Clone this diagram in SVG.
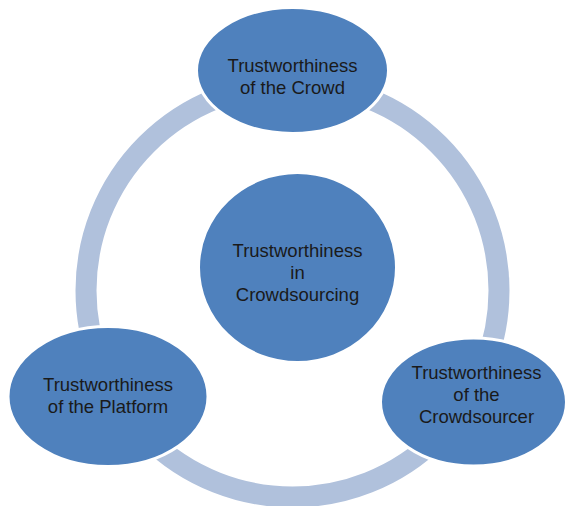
<svg xmlns="http://www.w3.org/2000/svg" width="567" height="506" viewBox="0 0 567 506">
  <style>
    .ring { fill: none; stroke: #B0C1DC; stroke-width: 21; }
    .node { fill: #4F81BD; stroke: #FFFFFF; stroke-width: 3; }
    .label { font-family: "Liberation Sans", Arial, sans-serif; font-size: 18.5px; fill: #1A1A1A; text-anchor: middle; }
  </style>
  <rect width="567" height="506" fill="#FFFFFF"/>

  <!-- cycle ring linking the three outer nodes -->
  <g id="connectors">
    <circle class="ring" cx="292.5" cy="290.5" r="206.5"/>
  </g>

  <g id="node-crowd">
    <ellipse class="node" cx="292.5" cy="70.5" rx="96" ry="63"/>
    <text class="label" x="292.5" y="72">Trustworthiness</text>
    <text class="label" x="292.5" y="94">of the Crowd</text>
  </g>

  <g id="node-center">
    <ellipse class="node" cx="297.5" cy="267.5" rx="99" ry="95"/>
    <text class="label" x="297.5" y="257">Trustworthiness</text>
    <text class="label" x="297.5" y="279">in</text>
    <text class="label" x="297.5" y="301">Crowdsourcing</text>
  </g>

  <g id="node-platform">
    <ellipse class="node" cx="108" cy="396.5" rx="100" ry="70"/>
    <text class="label" x="108" y="391">Trustworthiness</text>
    <text class="label" x="108" y="413">of the Platform</text>
  </g>

  <g id="node-crowdsourcer">
    <ellipse class="node" cx="473.5" cy="402" rx="93" ry="64"/>
    <text class="label" x="476.5" y="379">Trustworthiness</text>
    <text class="label" x="476.5" y="401">of the</text>
    <text class="label" x="476.5" y="423">Crowdsourcer</text>
  </g>
</svg>
